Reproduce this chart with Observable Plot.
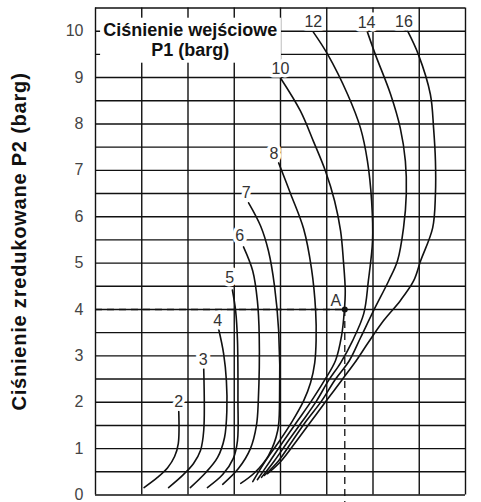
<!DOCTYPE html>
<html><head><meta charset="utf-8">
<script src="https://cdn.jsdelivr.net/npm/d3@7"></script>
<script src="https://cdn.jsdelivr.net/npm/@observablehq/plot@0.6"></script>
<style>body{margin:0;background:#fff} #chart svg{display:block}</style>
</head><body><div id="chart"></div>
<script>
// ---- data ----
const yTicks = [0,1,2,3,4,5,6,7,8,9,10];
const gridX = [0,1,2,3,4,5,6,7,8];
const gridY = [0,0.5,1,1.5,2,2.5,3,3.5,4,4.5,5,5.5,6,6.5,7,7.5,8,8.5,9,9.5,10,10.5];
const yTitle = "Ciśnienie zredukowane P2 (barg)";
const boxTitle = "Ciśnienie wejściowe\nP1 (barg)";

const c2x = [1.80,1.79,1.71,1.56,1.34,1.05];
const c2y = [1.80,1.11,0.83,0.59,0.38,0.16];
const c3x = [2.34,2.34,2.27,2.12,1.90,1.58];
const c3y = [2.72,1.39,0.96,0.68,0.44,0.16];
const c4x = [2.66,2.77,2.83,2.84,2.79,2.64,2.38,2.05];
const c4y = [3.59,3.05,2.47,1.82,1.24,0.81,0.48,0.16];
const c5x = [2.96,3.03,3.07,3.08,3.07,2.98,2.75,2.42];
const c5y = [4.42,3.97,3.33,2.03,1.17,0.79,0.44,0.16];
const c6x = [3.20,3.40,3.50,3.54,3.52,3.48,3.35,3.09,2.75];
const c6y = [5.35,4.83,4.19,3.43,2.03,1.50,1.00,0.57,0.23];
const c7x = [3.31,3.57,3.74,3.87,3.96,3.98,3.94,3.74,3.44,3.14];
const c7y = [6.30,5.80,5.26,4.51,3.54,2.03,1.39,0.85,0.48,0.25];
const c8x = [3.96,4.22,4.50,4.67,4.76,4.77,4.74,4.65,4.50,4.26,3.98,3.68,3.40];
const c8y = [7.16,6.49,5.74,4.88,3.97,3.33,2.85,2.42,2.03,1.60,1.17,0.74,0.29];
const c10x = [4.00,4.43,4.71,4.97,5.17,5.30,5.36,5.40,5.38,5.32,5.19,4.95,4.67,4.37,4.07,3.78,3.50];
const c10y = [8.99,8.28,7.63,6.99,6.34,5.69,5.05,4.40,3.97,3.43,2.90,2.47,2.03,1.60,1.17,0.74,0.33];
const c12x = [4.71,5.02,5.45,5.73,5.88,5.97,5.99,5.90,5.80,5.56,5.30,5.04,4.78,4.48,4.17,3.87,3.59];
const c12y = [9.98,9.50,8.64,7.91,7.20,6.34,5.48,4.62,3.91,3.33,2.85,2.47,2.03,1.60,1.17,0.74,0.38];
const c14x = [5.88,6.05,6.38,6.59,6.70,6.72,6.66,6.53,6.34,6.01,5.73,5.49,5.17,4.89,4.56,4.26,3.96,3.65];
const c14y = [9.98,9.50,8.64,7.91,7.20,6.49,5.76,5.05,4.62,3.97,3.39,2.90,2.47,2.03,1.60,1.17,0.74,0.42];
const c16x = [6.75,6.98,7.24,7.31,7.35,7.35,7.29,7.03,6.88,6.59,6.23,5.88,5.64,5.32,4.99,4.67,4.35,4.02,3.72];
const c16y = [10.00,9.50,8.64,7.91,7.20,6.49,5.76,5.05,4.62,4.19,3.76,3.26,2.90,2.47,2.03,1.60,1.17,0.74,0.46];

const curveNames = ["2","3","4","5","6","7","8","10","12","14","16"];
const labelX = [1.80,2.33,2.64,2.90,3.12,3.26,3.86,4.00,4.71,5.86,6.67];
const labelY = [2.00,2.91,3.76,4.69,5.59,6.51,7.36,9.18,10.21,10.18,10.21];

const pointName = ["A"];
const pointX = [5.39];
const pointY = [4.0];

// ---- build tables ----
const cx = [c2x,c3x,c4x,c5x,c6x,c7x,c8x,c10x,c12x,c14x,c16x];
const cy = [c2y,c3y,c4y,c5y,c6y,c7y,c8y,c10y,c12y,c14y,c16y];
const curves = curveNames.flatMap((n, i) => cx[i].map((x, j) => ({p1: n, x, y: cy[i][j]})));
const labels = curveNames.map((n, i) => ({t: n, x: labelX[i], y: labelY[i]}));
const pts = pointName.map((n, i) => ({t: n, x: pointX[i], y: pointY[i]}));

const ink = "#111";
const chart = Plot.plot({
  width: 481, height: 502,
  marginLeft: 95, marginRight: 16, marginTop: 7.5, marginBottom: 7.5,
  style: {fontFamily: "'Liberation Sans', Arial, sans-serif", background: "white"},
  x: {domain: [0, 8], axis: null},
  y: {domain: [0, 10.5], axis: null},
  marks: [
    Plot.ruleX(gridX, {stroke: ink, strokeWidth: 1.4}),
    Plot.ruleY(gridY, {stroke: ink, strokeWidth: 1.4}),
    Plot.rect([boxTitle], {x1: 0.11, x2: 4.02, y1: 9.31, y2: 10.28, fill: "white"}),
    Plot.axisY(yTicks, {tickSize: 0, tickPadding: 12, fontSize: 16, fill: "#444", label: null}),
    Plot.ruleY(pts, {y: "y", x1: 0, x2: "x", stroke: ink, strokeWidth: 1.3, strokeDasharray: "7,5"}),
    Plot.ruleX(pts, {x: "x", y1: "y", y2: -0.16, stroke: ink, strokeWidth: 1.3, strokeDasharray: "7,5", clip: false}),
    Plot.line(curves, {x: "x", y: "y", z: "p1", curve: "catmull-rom", stroke: ink, strokeWidth: 1.6}),
    Plot.dot(pts, {x: "x", y: "y", r: 3, fill: ink}),
    Plot.text(pts, {x: "x", y: "y", text: "t", dx: -9, dy: -9, fontSize: 16, fill: "#333"}),
    Plot.text(labels, {x: "x", y: "y", text: "t", fontSize: 16, fill: "#333", stroke: "white", strokeWidth: 7}),
    Plot.text([boxTitle], {x: 2.05, y: 9.81, text: d => d, fontSize: 18, fontWeight: "bold", fill: ink, lineHeight: 1.1}),
    Plot.text([yTitle], {frameAnchor: "left", text: d => d, rotate: -90, textAnchor: "middle", dx: -76, dy: -10, fontSize: 20, fontWeight: "bold", fill: ink})
  ]
});
chart.querySelectorAll("text").forEach(t => { if (t.textContent === yTitle) t.style.letterSpacing = "0.8px"; });
document.getElementById("chart").appendChild(chart);
</script>
</body></html>
